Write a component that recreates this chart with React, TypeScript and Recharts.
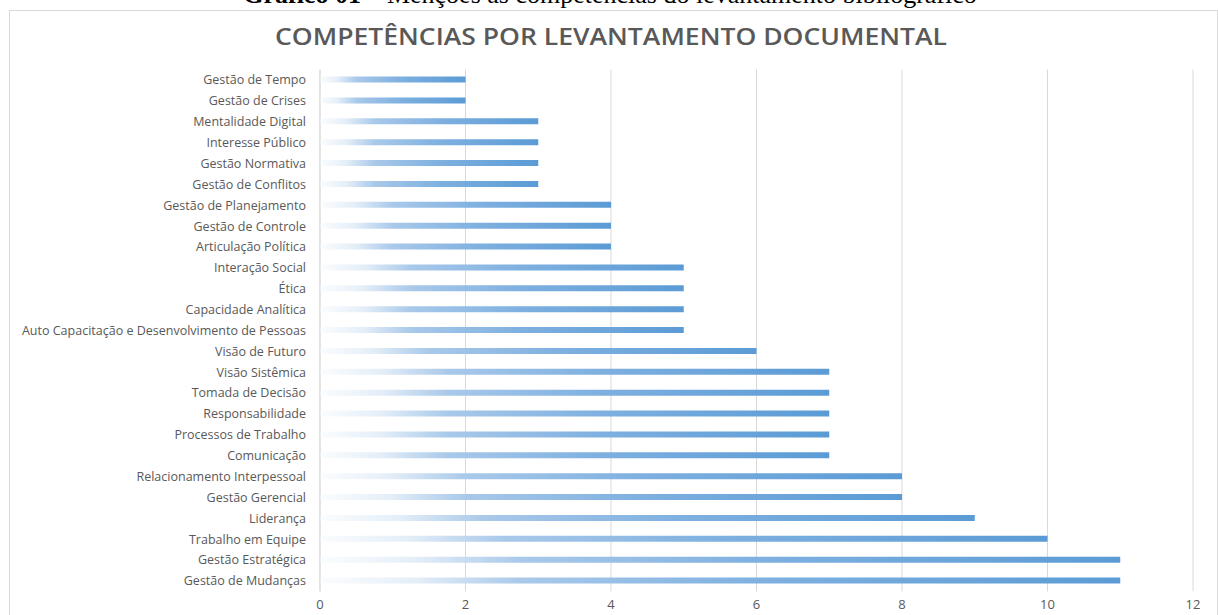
import React from "react"
import { BarChart, Bar, XAxis, YAxis, CartesianGrid } from "recharts"

const competencias = [
  "Gestão de Tempo",
  "Gestão de Crises",
  "Mentalidade Digital",
  "Interesse Público",
  "Gestão Normativa",
  "Gestão de Conflitos",
  "Gestão de Planejamento",
  "Gestão de Controle",
  "Articulação Política",
  "Interação Social",
  "Ética",
  "Capacidade Analítica",
  "Auto Capacitação e Desenvolvimento de Pessoas",
  "Visão de Futuro",
  "Visão Sistêmica",
  "Tomada de Decisão",
  "Responsabilidade",
  "Processos de Trabalho",
  "Comunicação",
  "Relacionamento Interpessoal",
  "Gestão Gerencial",
  "Liderança",
  "Trabalho em Equipe",
  "Gestão Estratégica",
  "Gestão de Mudanças",
]

const mencoes = [2, 2, 3, 3, 3, 3, 4, 4, 4, 5, 5, 5, 5, 6, 7, 7, 7, 7, 7, 8, 8, 9, 10, 11, 11]

const xTicks = [0, 2, 4, 6, 8, 10, 12]

const caption = "Menções às competências do levantamento bibliográfico"
const title = "COMPETÊNCIAS POR LEVANTAMENTO DOCUMENTAL"

const data = competencias.map((nome, i) => ({ nome, valor: mencoes[i] }))

const labelFont = "Open Sans, Lato, sans-serif"

// plain text tick so the long label is not wrapped
function CategoryTick(props: any) {
  const { x, y, payload } = props
  return (
    <text x={x - 6} y={y} dy="0.35em" textAnchor="end" fill="#595959" fontSize={12.5} fontFamily={labelFont}>
      {payload.value}
    </text>
  )
}

export default function App() {
  return (
    <div style={{ position: "absolute", left: 0, top: 0, width: 1218, height: 615, overflow: "hidden", background: "#fff" }}>
      <div
        style={{
          position: "absolute",
          left: 0,
          width: 1220,
          top: -22,
          textAlign: "center",
          fontFamily: "Liberation Serif, Times New Roman, serif",
          fontSize: 26,
          lineHeight: "34px",
          whiteSpace: "nowrap",
          color: "#000",
        }}
      >
        <b>Gráfico 01</b> – {caption}
      </div>
      <div
        style={{
          position: "absolute",
          left: 9,
          top: 10,
          width: 1207,
          height: 620,
          border: "1px solid #d9d9d9",
          background: "#fff",
        }}
      />
      <svg style={{ position: "absolute", left: 0, top: 0 }} width={1218} height={60}>
        <text
          x={611}
          y={45}
          textAnchor="middle"
          fontFamily={labelFont}
          fontWeight={600}
          fontSize={24}
          fill="#595959"
          textLength={672}
          lengthAdjust="spacingAndGlyphs"
        >
          {title}
        </text>
      </svg>
      <div style={{ position: "absolute", left: 0, top: 0 }}>
        <BarChart
          width={1218}
          height={615}
          data={data}
          layout="vertical"
          margin={{ top: 69.6, bottom: 3.6, left: 10, right: 25 }}
          barSize={6}
        >
          <defs>
            <linearGradient id="barGrad" x1="0" y1="0" x2="1" y2="0">
              <stop offset="0%" stopColor="#fbfdfe" />
              <stop offset="12%" stopColor="#e4eef8" />
              <stop offset="25%" stopColor="#a9c9ea" />
              <stop offset="55%" stopColor="#7eb0e0" />
              <stop offset="100%" stopColor="#5b9bd5" />
            </linearGradient>
          </defs>
          <CartesianGrid horizontal={false} stroke="#d9d9d9" />
          <XAxis
            type="number"
            domain={[0, 12]}
            ticks={xTicks}
            height={20}
            axisLine={false}
            tickLine={false}
            tick={{ fill: "#595959", fontSize: 13, fontFamily: labelFont }}
            interval={0}
          />
          <YAxis
            type="category"
            dataKey="nome"
            width={310}
            axisLine={{ stroke: "#d9d9d9" }}
            tickLine={false}
            interval={0}
            tick={<CategoryTick />}
          />
          <Bar dataKey="valor" fill="url(#barGrad)" isAnimationActive={false} />
        </BarChart>
      </div>
    </div>
  )
}
